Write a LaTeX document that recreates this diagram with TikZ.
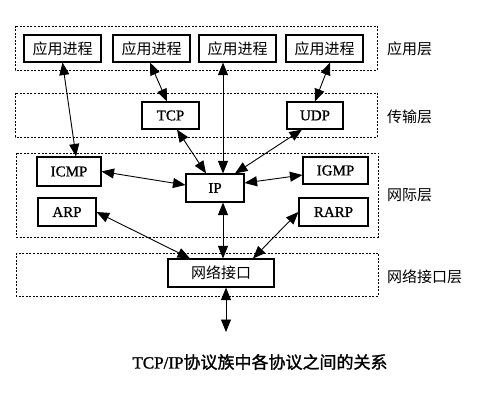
\documentclass[tikz,border=0pt]{standalone}
\usepackage{fontspec}
\setmainfont{Liberation Serif}
\newfontfamily\cjk{Noto Sans CJK SC}
\newfontfamily\cjkb{Noto Sans CJK SC}[FakeBold=1.3]
\newfontfamily\latb{Liberation Serif}[FakeBold=0.9]
\newfontfamily\latc{Liberation Serif}[FakeBold=1.3]
\usetikzlibrary{arrows.meta}
\begin{document}
\begin{tikzpicture}[x=1pt,y=-1pt,
  layerbox/.style={draw, line width=0.9pt, dash pattern=on 2pt off 1.5pt},
  pbox/.style={draw, line width=1.1pt, inner sep=0pt, minimum height=27pt, font=\latb\fontsize{15}{15}\selectfont},
  cbox/.style={pbox, font=\cjk\fontsize{15}{15}\selectfont},
  lbl/.style={anchor=west, inner sep=0pt, font=\cjk\fontsize{15}{15}\selectfont},
  conn/.style={line width=0.9pt, {Triangle[length=12.5pt,width=10pt]}-{Triangle[length=12.5pt,width=10pt]}}]
\useasboundingbox (0,0) rectangle (496,401);
\fill[white] (0,0) rectangle (496,401);
% layer boxes
\draw[layerbox] (15,26) rectangle (377,70);
\draw[layerbox] (15,93) rectangle (377,137);
\draw[layerbox] (16,153) rectangle (378,237);
\draw[layerbox] (16,253) rectangle (378,296);
% layer labels
\node[lbl] (l1) at (387,49) {应用层};
\node[lbl] (l2) at (387,117) {传输层};
\node[lbl] (l3) at (387,195) {网际层};
\node[lbl] (l4) at (387,277) {网络接口层};
% process boxes
\node[cbox, minimum width=77pt] (app1) at (62.5,48.5) {应用进程};
\node[cbox, minimum width=77pt] (app2) at (151.5,48.5) {应用进程};
\node[cbox, minimum width=77pt] (app3) at (237.5,48.5) {应用进程};
\node[cbox, minimum width=77pt] (app4) at (324.5,48.5) {应用进程};
\node[pbox, minimum width=57pt] (tcp) at (170.5,115.5) {TCP};
\node[pbox, minimum width=56pt] (udp) at (315,115.5) {UDP};
\node[pbox, minimum width=64pt, minimum height=29pt] (icmp) at (69,171.5) {ICMP};
\node[pbox, minimum width=58pt, minimum height=28pt] (ip) at (215,188) {IP};
\node[pbox, minimum width=65pt] (igmp) at (335.5,170.5) {IGMP};
\node[pbox, minimum width=58pt, minimum height=28pt] (arp) at (67,212) {ARP};
\node[pbox, minimum width=69pt, minimum height=28pt] (rarp) at (333.5,212) {RARP};
\node[cbox, minimum width=106pt, minimum height=28pt] (nif) at (221,273) {网络接口};
\coordinate (out) at (226,332);
% connectors
\draw[conn] (app1.south) -- ([xshift=7pt]icmp.north);
\draw[conn] ([xshift=-1.5pt]app2.south) -- ([xshift=-3.5pt]tcp.north);
\draw[conn] ([xshift=-14.5pt]app3.south) -- ([xshift=8pt]ip.north);
\draw[conn] ([xshift=5.5pt]app4.south) -- (udp.north);
\draw[conn] ([xshift=6.5pt]tcp.south) -- ([xshift=-9pt]ip.north);
\draw[conn] ([xshift=-13pt]udp.south) -- ([xshift=20pt]ip.north);
\draw[conn] (icmp.east) -- ([yshift=3pt]ip.west);
\draw[conn] ([yshift=-4.5pt]igmp.west) -- ([yshift=5pt]ip.east);
\draw[conn] (arp.east) -- ([xshift=-31pt]nif.north);
\draw[conn] (rarp.west) -- ([xshift=32pt]nif.north);
\draw[conn] ([xshift=8pt]ip.south) -- ([xshift=2pt]nif.north);
\draw[conn] ([xshift=5pt]nif.south) -- (out);
% caption
\node[inner sep=0pt, font=\latc\fontsize{17}{17}\selectfont] (cap) at (260,362) {TCP/IP{\cjkb 协议族中各协议之间的关系}};
\end{tikzpicture}
\end{document}
